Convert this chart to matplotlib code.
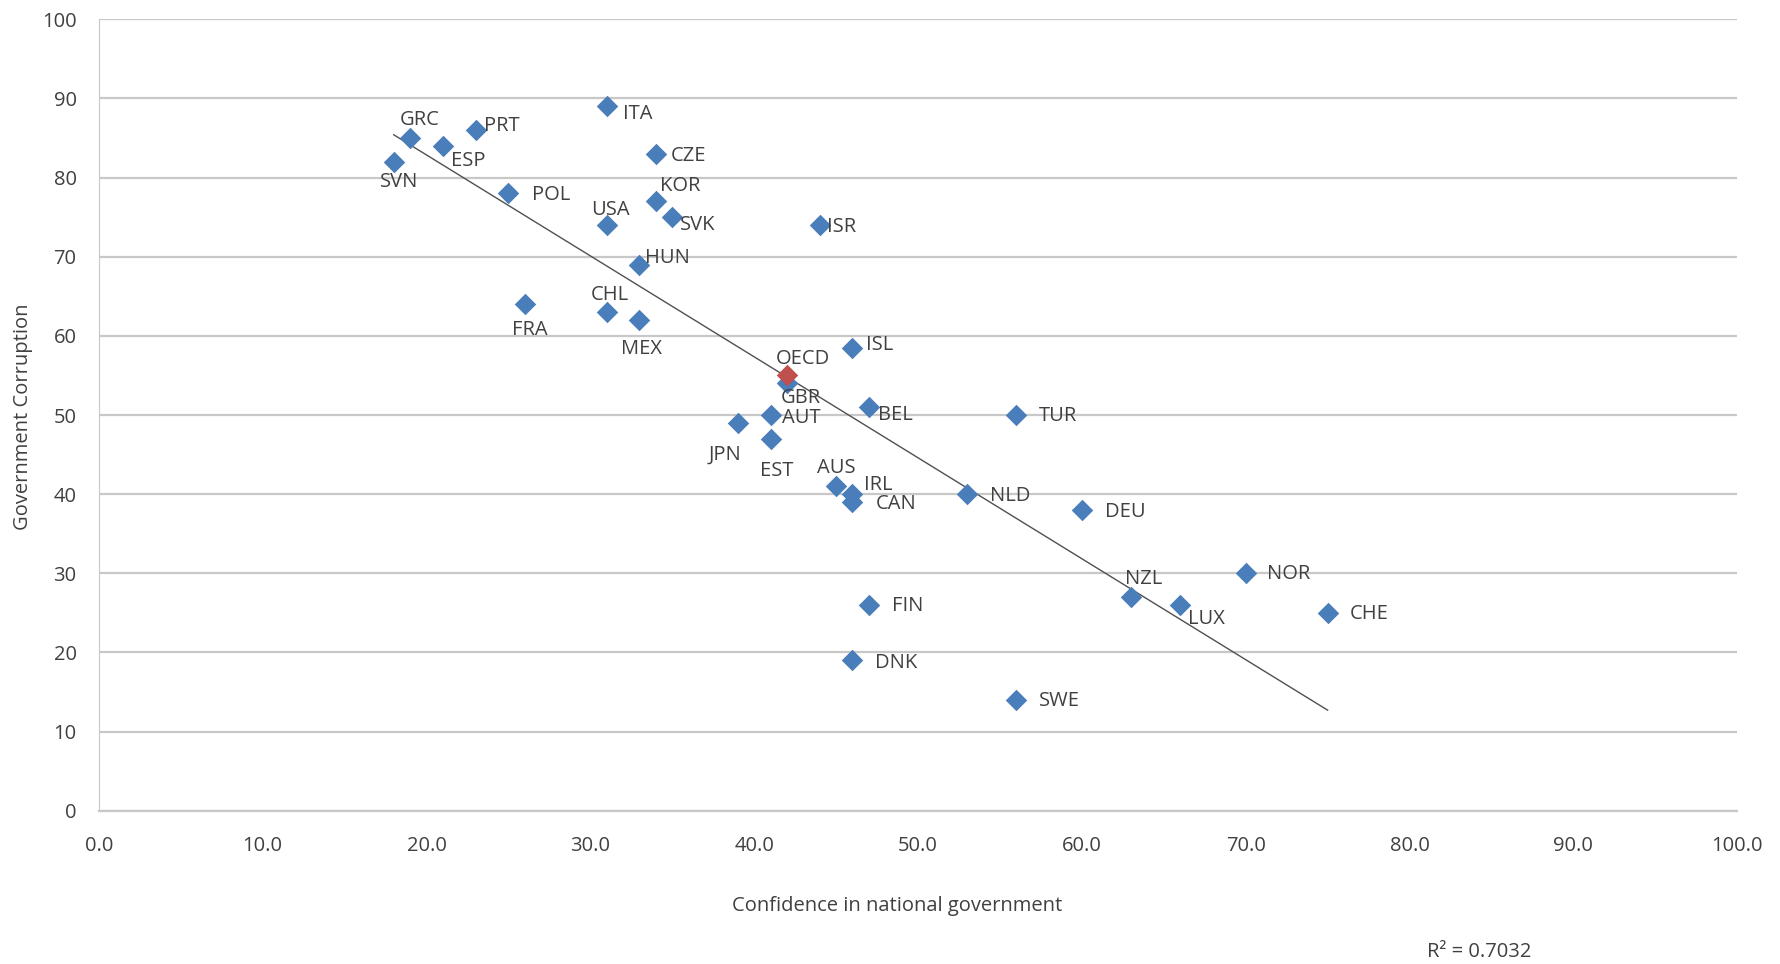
"""Government corruption vs confidence in national government (OECD countries)."""

import matplotlib
import numpy as np

matplotlib.use("Agg")
import matplotlib.pyplot as plt

plt.rcParams["font.family"] = ["Open Sans", "DejaVu Sans"]

# Data
countries = ["GRC", "ESP", "PRT", "SVN", "POL", "ITA", "CZE", "KOR", "SVK", "USA",
             "ISR", "HUN", "FRA", "CHL", "MEX", "ISL", "GBR", "AUT", "BEL", "TUR",
             "JPN", "EST", "AUS", "IRL", "CAN", "NLD", "DEU", "NZL", "NOR", "LUX",
             "CHE", "FIN", "DNK", "SWE"]
confidence = [19, 21, 23, 18, 25, 31, 34, 34, 35, 31,
              44, 33, 26, 31, 33, 46, 42, 41, 47, 56,
              39, 41, 45, 46, 46, 53, 60, 63, 70, 66,
              75, 47, 46, 56]
corruption = [85, 84, 86, 82, 78, 89, 83, 77, 75, 74,
              74, 69, 64, 63, 62, 58.5, 54, 50, 51, 50,
              49, 47, 41, 40, 39, 40, 38, 27, 30, 26,
              25, 26, 19, 14]
oecd_label = "OECD"
oecd_confidence = 42
oecd_corruption = 55
r2_text = "R\u00b2 = 0.7032"

# label offsets (reference px, dx right, dy up) and alignment
label_pos = {
    "GRC": (8, 16, "center"), "ESP": (7, -13, "left"), "PRT": (7, 4, "left"),
    "SVN": (5, -18, "center"), "POL": (21, -1, "left"), "ITA": (14, -7, "left"),
    "CZE": (13, -2, "left"), "KOR": (4, 13, "left"), "SVK": (7, -7, "left"),
    "USA": (3, 13, "center"), "ISR": (6, -2, "left"), "HUN": (5, 6, "left"),
    "FRA": (4, -23, "center"), "CHL": (3, 15, "center"), "MEX": (2, -25, "center"),
    "ISL": (12, 2, "left"), "GBR": (12, -13, "center"), "AUT": (10, -3, "left"),
    "BEL": (8, -7, "left"), "TUR": (20, -1, "left"), "JPN": (-11, -28, "center"),
    "EST": (5, -28, "center"), "AUS": (0, 16, "center"), "IRL": (10, 8, "left"),
    "CAN": (20, -2, "left"), "NLD": (20, -2, "left"), "DEU": (20, -2, "left"),
    "NZL": (11, 16, "center"), "NOR": (19, -1, "left"), "LUX": (7, -12, "left"),
    "CHE": (19, -1, "left"), "FIN": (20, -1, "left"), "DNK": (20, -2, "left"),
    "SWE": (20, -1, "left"),
}
SCALE = 1780 / 1560  # reference preview px -> output px

BLUE = "#4A7EBB"
RED = "#C0504D"
GRID = "#C8C8C8"
TEXT = "#404040"
FS = 14.5

fig = plt.figure(figsize=(17.8, 9.64), dpi=100)
ax = fig.add_axes([0.0555, 0.159, 0.9205, 0.821])

x = np.array(confidence, dtype=float)
y = np.array(corruption, dtype=float)

# linear trend
slope, intercept = np.polyfit(x, y, 1)
xs = np.array([x.min(), x.max()])
ax.plot(xs, slope * xs + intercept, color="#505050", lw=1.0, zorder=2)

ax.scatter(x, y, marker="D", s=120, color=BLUE, linewidths=0, zorder=3)
ax.scatter([oecd_confidence], [oecd_corruption], marker="D", s=120, color=RED,
           linewidths=0, zorder=4)

for c, xi, yi in zip(countries, x, y):
    dx, dy, ha = label_pos[c]
    ax.annotate(c, (xi, yi), xytext=(dx * SCALE, dy * SCALE), textcoords="offset pixels",
                ha=ha, va="center", fontsize=FS, color=TEXT, zorder=5)
ax.annotate(oecd_label, (oecd_confidence, oecd_corruption), xytext=(14 * SCALE, 14 * SCALE),
            textcoords="offset pixels", ha="center", va="center", fontsize=FS,
            color=TEXT, zorder=5)

ax.set_xlim(0, 100)
ax.set_ylim(0, 100)
ax.set_xticks(np.arange(0, 101, 10))
ax.set_xticklabels([f"{v:.1f}" for v in np.arange(0, 101, 10)])
ax.set_yticks(np.arange(0, 101, 10))
ax.yaxis.grid(True, color=GRID, lw=1.6)
ax.set_axisbelow(True)
for side in ["top", "right"]:
    ax.spines[side].set_visible(False)
ax.spines["left"].set_color(GRID)
ax.spines["bottom"].set_color(GRID)
ax.spines["bottom"].set_linewidth(1.6)
ax.tick_params(axis="both", length=0, labelsize=FS, colors=TEXT)
ax.tick_params(axis="x", pad=18)
ax.tick_params(axis="y", pad=16)

ax.set_xlabel("Confidence in national government", fontsize=FS, color=TEXT)
ax.xaxis.set_label_coords(0.4875, -0.108)
fig.text(0.013, 0.568, "Government Corruption", rotation=90, ha="center", va="center",
         fontsize=FS, color=TEXT)
fig.text(0.831, 0.002, r2_text, ha="center", va="bottom", fontsize=FS, color=TEXT)

fig.savefig("out.png", dpi=100)
plt.close(fig)
